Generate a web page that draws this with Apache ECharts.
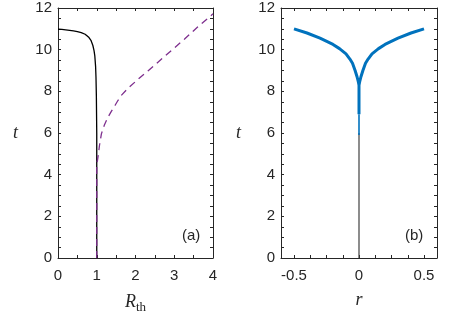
<!DOCTYPE html>
<html>
<head>
<meta charset="utf-8">
<script src="https://cdn.jsdelivr.net/npm/echarts@6/dist/echarts.min.js"></script>
<style>html,body{margin:0;padding:0;background:#fff}#c{width:450px;height:315px}</style>
</head>
<body>
<div id="c"></div>
<script>
// Panel (a): R_th vs t
var rthSolid = [0, 0.1, 0.2, 0.3, 0.4, 0.5, 0.6, 0.7, 0.75, 0.8, 0.85, 0.9, 0.93, 0.95, 0.97, 0.98, 0.99, 1.0, 1.0];
var tSolid   = [10.98, 10.97, 10.95, 10.93, 10.9, 10.87, 10.82, 10.74, 10.68, 10.58, 10.45, 10.2, 9.95, 9.7, 9.2, 8.7, 7.8, 6.0, 0];
var rthDashed = [1.0, 1.0, 1.02, 1.04, 1.07, 1.12, 1.2, 1.29, 1.38, 1.47, 1.55, 1.64, 1.81, 2.06, 2.32, 2.58, 2.92, 3.26, 3.61, 4.0];
var tDashed   = [0, 4.5, 4.7, 4.95, 5.4, 5.96, 6.4, 6.76, 7.05, 7.32, 7.57, 7.82, 8.15, 8.57, 8.98, 9.4, 9.95, 10.5, 11.1, 11.72];
// Panel (b): r vs t
var rBlue = [-0.5, -0.4, -0.3, -0.2, -0.15, -0.1, -0.07, -0.05, -0.03, -0.015, -0.005, 0, 0, 0, 0.005, 0.015, 0.03, 0.05, 0.07, 0.1, 0.15, 0.2, 0.3, 0.4, 0.5];
var tBlue = [11.0, 10.8, 10.55, 10.25, 10.05, 9.8, 9.55, 9.35, 9.0, 8.7, 8.45, 8.3, 6.9, 8.3, 8.45, 8.7, 9.0, 9.35, 9.55, 9.8, 10.05, 10.25, 10.55, 10.8, 11.0];
var rBlueThin = [0, 0];
var tBlueThin = [6.9, 5.9];
var rBlack = [0, 0];
var tBlack = [0, 6.0];
// Tick values / labels
var rLabelValues = [-0.5, 0, 0.5];
var rTickValues = [-0.5, -0.375, -0.25, -0.125, 0, 0.125, 0.25, 0.375, 0.5];
var panelLabels = ['(a)', '(b)'];

function zip(a, b) { return a.map(function (v, i) { return [v, b[i]]; }); }

var axisColor = '#262626';
var font = 'Liberation Sans, Arial, sans-serif';
var serif = 'Liberation Serif, DejaVu Serif, serif';

function baseAxis(extra) {
  var o = {
    type: 'value',
    axisLine: { show: true, onZero: false, lineStyle: { color: axisColor, width: 1 } },
    axisTick: { show: true, inside: true, length: 3, lineStyle: { color: axisColor } },
    minorTick: { show: true, length: 3, lineStyle: { color: axisColor } },
    splitLine: { show: false },
    minorSplitLine: { show: false },
    axisLabel: { show: true, color: axisColor, fontFamily: font, fontSize: 15 }
  };
  for (var k in extra) o[k] = extra[k];
  return o;
}

var grids = [
  { left: 58, top: 8, width: 155, height: 250, outerBoundsMode: 'none', containLabel: false },
  { left: 281, top: 8, width: 156, height: 250, outerBoundsMode: 'none', containLabel: false }
];

var xAxes = [
  baseAxis({ gridIndex: 0, position: 'bottom', min: 0, max: 4, interval: 1,
    minorTick: { show: true, splitNumber: 2, length: 3, lineStyle: { color: axisColor } },
    axisLabel: { color: axisColor, fontFamily: font, fontSize: 15, margin: 10 },
    name: '{i|R}{s|th}', nameLocation: 'middle', nameGap: 33,
    nameTextStyle: { rich: {
      i: { fontFamily: serif, fontStyle: 'italic', fontSize: 18, color: axisColor },
      s: { fontFamily: serif, fontSize: 13, color: axisColor, padding: [10, 0, 0, 0] } } } }),
  baseAxis({ gridIndex: 0, position: 'top', min: 0, max: 4, interval: 1,
    minorTick: { show: true, splitNumber: 2, length: 3, lineStyle: { color: axisColor } },
    axisLabel: { show: false } }),
  baseAxis({ gridIndex: 1, position: 'bottom', min: -0.6, max: 0.6,
    axisTick: { show: true, inside: true, length: 3, customValues: rTickValues, lineStyle: { color: axisColor } },
    minorTick: { show: false },
    axisLabel: { color: axisColor, fontFamily: font, fontSize: 15, margin: 10, customValues: rLabelValues },
    name: 'r', nameLocation: 'middle', nameGap: 33,
    nameTextStyle: { fontFamily: serif, fontStyle: 'italic', fontSize: 18, color: axisColor } }),
  baseAxis({ gridIndex: 1, position: 'top', min: -0.6, max: 0.6,
    axisTick: { show: true, inside: true, length: 3, customValues: rTickValues, lineStyle: { color: axisColor } },
    minorTick: { show: false },
    axisLabel: { show: false, customValues: rLabelValues } })
];

function yPair(gi) {
  return [
    baseAxis({ gridIndex: gi, position: 'left', min: 0, max: 12, interval: 2,
      minorTick: { show: true, splitNumber: 4, length: 3, lineStyle: { color: axisColor } },
      axisLabel: { color: axisColor, fontFamily: font, fontSize: 15, margin: 6 },
      name: 't', nameLocation: 'middle', nameGap: 40, nameRotate: 0,
      nameTextStyle: { fontFamily: serif, fontStyle: 'italic', fontSize: 18, color: axisColor } }),
    baseAxis({ gridIndex: gi, position: 'right', min: 0, max: 12, interval: 2,
      minorTick: { show: true, splitNumber: 4, length: 3, lineStyle: { color: axisColor } },
      axisLabel: { show: false } })
  ];
}
var yAxes = yPair(0).concat(yPair(1));

var chart = echarts.init(document.getElementById('c'), null, { renderer: 'canvas' });
chart.setOption({
  animation: false,
  backgroundColor: '#fff',
  grid: grids,
  xAxis: xAxes,
  yAxis: yAxes,
  graphic: [
    { type: 'text', left: 182, top: 228, style: { text: panelLabels[0], fontFamily: font, fontSize: 15, fill: axisColor } },
    { type: 'text', left: 405, top: 228, style: { text: panelLabels[1], fontFamily: font, fontSize: 15, fill: axisColor } }
  ],
  series: [
    { type: 'line', xAxisIndex: 0, yAxisIndex: 0, data: zip(rthSolid, tSolid), showSymbol: false, symbol: 'none',
      lineStyle: { color: '#000', width: 1.3 } },
    { type: 'line', xAxisIndex: 0, yAxisIndex: 0, data: zip(rthDashed, tDashed), showSymbol: false, symbol: 'none',
      lineStyle: { color: '#7E2F8E', width: 1.3, type: [7, 5] } },
    { type: 'line', xAxisIndex: 2, yAxisIndex: 2, data: zip(rBlack, tBlack), showSymbol: false, symbol: 'none',
      lineStyle: { color: '#404040', width: 1.2 } },
    { type: 'line', xAxisIndex: 2, yAxisIndex: 2, data: zip(rBlueThin, tBlueThin), showSymbol: false, symbol: 'none',
      lineStyle: { color: '#0072BD', width: 1.6 } },
    { type: 'line', xAxisIndex: 2, yAxisIndex: 2, data: zip(rBlue, tBlue), showSymbol: false, symbol: 'none',
      lineStyle: { color: '#0072BD', width: 3 } }
  ]
});
</script>
</body>
</html>
